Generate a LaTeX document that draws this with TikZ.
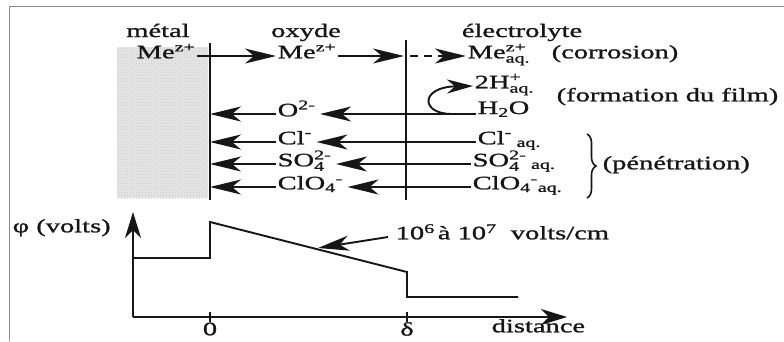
\documentclass[tikz,border=0pt]{standalone}
\usepackage{amsmath}
\usepackage{fontspec}
\setmainfont{Liberation Serif}[FakeStretch=1.5,FakeBold=1.2]
\usetikzlibrary{arrows.meta,decorations.pathreplacing,patterns}
\definecolor{ink}{HTML}{161616}
\definecolor{framegray}{HTML}{8C8C8C}
\definecolor{metalgray}{HTML}{E6E6E6}
\newcommand\chem[3]{$\text{#1}^{\text{#2}}_{\text{#3}}$}
\begin{document}
\begin{tikzpicture}[x=1pt,y=-1pt,
  lab/.style={inner sep=1.5pt,text=ink,font=\fontsize{19}{22}\selectfont},
  ln/.style={draw=ink,line width=1.9pt},
  arr/.style={ln,-{Stealth[length=31pt,width=15pt,inset=9pt]}},
  arrs/.style={ln,-{Stealth[length=26pt,width=14pt,inset=8pt]}},
  axarr/.style={ln,-{Stealth[length=26pt,width=16pt,inset=8pt]}},
  bracestyle/.style={draw=ink,line width=1.6pt,decorate,decoration={brace,amplitude=9pt}}]
\useasboundingbox (0,0) rectangle (784,341);
\fill[white] (0,0) rectangle (784,341);
% frame
\draw[framegray,line width=1.5pt] (9.5,341) -- (9.5,6.5) -- (784,6.5);
% metal shading
\fill[metalgray] (117,47) rectangle (208,198);
\fill[pattern=crosshatch dots,pattern color=black!22] (117,47) rectangle (208,198);
% interfaces
\coordinate (ifLt) at (210,43);
\coordinate (ifLb) at (210,200);
\coordinate (ifRt) at (406,40);
\coordinate (ifRb) at (406,200);
\draw[ln] (ifLt) -- (ifLb);
\draw[ln] (ifRt) -- (ifRb);
% headers
\node[lab,anchor=base] (hm) at (158,37) {métal};
\node[lab,anchor=base] (ho) at (306,37) {oxyde};
\node[lab,anchor=base] (he) at (522,37) {électrolyte};
% row 1
\node[lab,anchor=mid west] (me1) at (135,56) {\chem{Me}{z+}{}};
\node[lab,anchor=mid west] (me2) at (276,56) {\chem{Me}{z+}{}};
\node[lab,anchor=mid west] (me3) at (466,56) {\chem{Me}{z+}{aq.}};
\node[lab,anchor=mid west] (corr) at (550,56) {(corrosion)};
\coordinate (me2end) at (404,56);
\coordinate (dstart) at (410,56);
\draw[arr] (me1.mid east) -- (me2.mid west);
\draw[arr] (me2.mid east) -- (me2end);
\draw[arr,dash pattern=on 8pt off 6pt] (dstart) -- (me3.mid west);
% row 2
\node[lab,anchor=mid west] (h2) at (473,86) {\chem{2H}{+}{aq.}};
\node[lab,anchor=base west] (h2o) at (476,114) {H$_{\text{2}}$O};
\node[lab,anchor=mid west] (film) at (555,99) {(formation du film)};
\node[lab,anchor=mid west] (o2) at (276,114) {\chem{O}{2-}{}};
\coordinate (split) at (452,114);
\draw[arr] (h2o.base west) -- ([xshift=3pt]o2.mid east);
\draw[arr] (o2.mid west) -- (o2.mid west -| ifLt);
\draw[arrs] (split) .. controls (420,114) and (420,87) .. (h2.mid west);
% penetration rows
\node[lab,anchor=mid west] (cl1) at (276,142) {\chem{Cl}{-}{}};
\node[lab,anchor=mid west] (so1) at (276,164) {$\text{SO}^{\text{2-}}_{\text{4}}$};
\node[lab,anchor=mid west] (clo1) at (276,187) {$\text{ClO}_{\text{4}}{}^{\text{-}}$};
\node[lab,anchor=mid west] (cl2) at (476,142) {$\text{Cl}^{\text{-}}\;{}_{\text{aq.}}$};
\node[lab,anchor=mid west] (so2) at (471,164) {$\text{SO}^{\text{2-}}_{\text{4}}\;{}_{\text{aq.}}$};
\node[lab,anchor=mid west] (clo2) at (471,187) {$\text{ClO}_{\text{4}}{}^{\text{-}}{}_{\text{aq.}}$};
\foreach \a/\b in {cl1/cl2,so1/so2,clo1/clo2}{
  \draw[arr] (\a.mid west) -- (\a.mid west -| ifLt);
  \draw[arr] (\b.mid west) -- ([xshift=3pt]\a.mid east);
}
\coordinate (brT) at (587,134);
\coordinate (brB) at (587,198);
\draw[bracestyle] (brT) -- (brB);
\node[lab,anchor=mid west] (pen) at (601,167) {(pénétration)};
% graph
\coordinate (O) at (133,317);
\coordinate (ytip) at (133,212);
\coordinate (xtip) at (567,317);
\draw[axarr] (O) -- (ytip);
\draw[axarr] (O) -- (xtip);
\draw[ln] (210,312) -- (210,322);
\draw[ln] (407,312) -- (407,322);
\draw[ln] (133,258) -- (210,258) -- (210,222) -- (407,272) -- (407,297) -- (518,297);
\node[lab,anchor=mid west] (phi) at (11,230) {φ (volts)};
\node[lab] (t0) at (210,329) {0};
\node[lab] (td) at (407,329) {δ};
\node[lab,anchor=mid west] (dist) at (490,330) {distance};
\node[lab,anchor=mid west] (ann) at (394,237) {10\textsuperscript{6}\,à 10\textsuperscript{7}~~volts/cm};
\coordinate (slope) at (318,248);
\draw[arr] ([xshift=-6pt]ann.mid west) -- (slope);
\end{tikzpicture}
\end{document}
